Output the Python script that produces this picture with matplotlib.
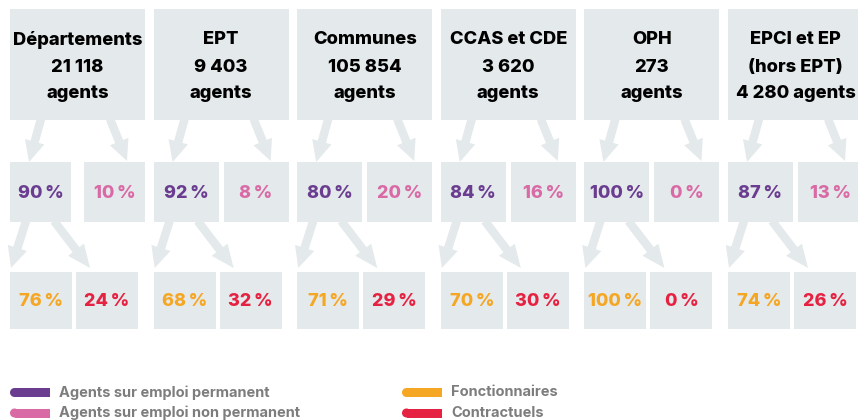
import matplotlib
matplotlib.use("Agg")
import matplotlib.pyplot as plt
from matplotlib.patches import Rectangle, FancyArrow, Circle

# ---- data ----
names = ["Départements", "EPT", "Communes", "CCAS et CDE", "OPH", "EPCI et EP"]
agents = ["21 118", "9 403", "105 854", "3 620", "273", "4 280"]
permanent = [90, 92, 80, 84, 100, 87]
non_permanent = [10, 8, 20, 16, 0, 13]
fonctionnaires = [76, 68, 71, 70, 100, 74]
contractuels = [24, 32, 29, 30, 0, 26]
legend_labels = ["Agents sur emploi permanent", "Agents sur emploi non permanent",
                 "Fonctionnaires", "Contractuels"]

# ---- style ----
C_BOX = "#e4e9eb"
C_PERM = "#6b3d91"
C_NONP = "#d96aa6"
C_FONC = "#f5a623"
C_CONT = "#e62243"
C_LEG = "#7d7d7d"
FONT = "Inter"

W, H = 858, 420
fig = plt.figure(figsize=(W / 100, H / 100), dpi=100)
ax = fig.add_axes([0, 0, 1, 1])
ax.set_xlim(0, W)
ax.set_ylim(H, 0)
ax.axis("off")

def box(x0, y0, w, h):
    ax.add_patch(Rectangle((x0, y0), w, h, facecolor=C_BOX, edgecolor="none", zorder=1))

def arrow(x0, y0, x1, y1, hl=21):
    ax.add_patch(FancyArrow(x0, y0, x1 - x0, y1 - y0, width=8.5, head_width=20,
                            head_length=hl, length_includes_head=True,
                            facecolor=C_BOX, edgecolor="none", zorder=1))

def pct(x, y, v, color):
    ax.text(x, y, f"{v}\u2009%", ha="center", va="center", fontsize=13,
            fontweight="heavy", color=color, family=[FONT, "DejaVu Sans"], zorder=3)

step = 143.6
for i in range(len(names)):
    x0 = 10 + step * i
    # header
    box(x0, 9, 135, 111)
    if i == len(names) - 1:
        lines = [names[i], "(hors EPT)", f"{agents[i]} agents"]
    else:
        lines = [names[i], agents[i], "agents"]
    for k, t in enumerate(lines):
        ax.text(x0 + 67.5, 40 + 27 * k, t, ha="center", va="center",
                fontsize=13.2, fontweight="heavy", color="black", family=FONT, zorder=3)
    # middle boxes
    if i == 0:
        lw, gap = 61, 13
    else:
        lw, gap = 65, 5
    box(x0, 162, lw, 60)
    box(x0 + lw + gap, 162, 135 - lw - gap, 60)
    pct(x0 + lw / 2, 193, permanent[i], C_PERM)
    pct(x0 + lw + gap + (135 - lw - gap) / 2, 193, non_permanent[i], C_NONP)
    # bottom boxes
    box(x0, 272, 62, 57)
    box(x0 + 66, 272, 62, 57)
    pct(x0 + 31, 302, fonctionnaires[i], C_FONC)
    pct(x0 + 66 + 31, 302, contractuels[i], C_CONT)
    # arrows header -> middle
    arrow(x0 + 31, 119, x0 + 19, 162)
    arrow(x0 + 100, 119, x0 + 117, 161)
    # arrows middle -> bottom
    arrow(x0 + 16, 221, x0 + 1, 268)
    arrow(x0 + 44, 221, x0 + 80, 268, hl=23)

# legend
leg = [(9, 392.5, C_PERM, legend_labels[0]), (9, 413, C_NONP, legend_labels[1]),
       (401, 392.5, C_FONC, legend_labels[2]), (401, 413, C_CONT, legend_labels[3])]
for lx, ly, col, lab in leg:
    ax.add_patch(Circle((lx + 5.5, ly), 4.5, facecolor=col, edgecolor="none", zorder=2))
    ax.add_patch(Rectangle((lx + 5.5, ly - 4.5), 35, 9, facecolor=col,
                           edgecolor="none", zorder=2))
    ax.text(lx + 50, ly, lab, ha="left", va="center", fontsize=10.5,
            fontweight="bold", color=C_LEG, family=FONT, zorder=3)

fig.savefig("out.png", dpi=100)
